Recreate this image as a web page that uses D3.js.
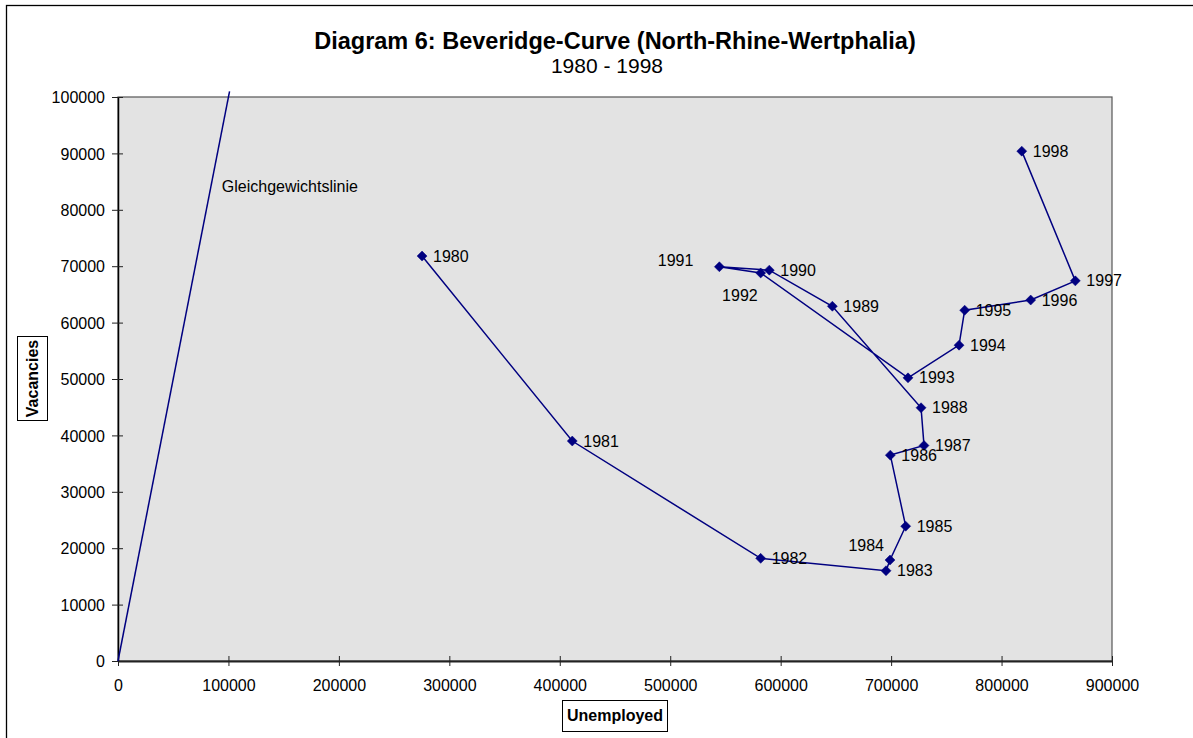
<!DOCTYPE html>
<html><head><meta charset="utf-8">
<script src="https://cdn.jsdelivr.net/npm/d3@7"></script>
<style>
html,body{margin:0;padding:0;background:#fff;}
svg{display:block;font-family:"Liberation Sans",Arial,sans-serif;}
</style></head>
<body>
<svg id="chart" width="1193" height="738"></svg>
<script>
// ---- data ----
const years = [1980,1981,1982,1983,1984,1985,1986,1987,1988,1989,1990,1991,1992,1993,1994,1995,1996,1997,1998];
const unemployed = [275300,411300,581900,695400,699000,713200,699300,729800,727100,646800,589700,544500,581900,715300,761500,766600,826400,866800,818300];
const vacancies  = [71800,39000,18200,16000,17900,23900,36500,38200,44900,62900,69300,69900,68800,50200,56000,62200,64000,67400,90400];
const equilibriumU = [0,101000];
const equilibriumV = [0,101000];
const xTicks = [0,100000,200000,300000,400000,500000,600000,700000,800000,900000];
const yTicks = [0,10000,20000,30000,40000,50000,60000,70000,80000,90000,100000];
const titleText = "Diagram 6: Beveridge-Curve (North-Rhine-Wertphalia)";
const subtitleText = "1980 - 1998";
const xTitle = "Unemployed";
const yTitle = "Vacancies";
const lineLabel = "Gleichgewichtslinie";

// label placement exceptions (style, not data)
const labelPlace = {1991:"left",1992:"belowLeft",1984:"aboveLeft"};

const svg = d3.select("#chart");
const plot = {l:118, r:1112, t:97, b:661};
const x = d3.scaleLinear().domain([0,900000]).range([plot.l, plot.r]);
const y = d3.scaleLinear().domain([0,100000]).range([plot.b, plot.t]);
const navy = "#000080";

// outer frame
svg.append("rect").attr("x",6.5).attr("y",5.5).attr("width",1200).attr("height",800)
  .attr("fill","#fff").attr("stroke","#000").attr("stroke-width",1.3);

// plot area
svg.append("rect").attr("x",plot.l).attr("y",plot.t).attr("width",plot.r-plot.l).attr("height",plot.b-plot.t)
  .attr("fill","#e3e3e3").attr("stroke","#555").attr("stroke-width",1.2);

// title
svg.append("text").attr("x",615).attr("y",49).attr("text-anchor","middle")
  .attr("font-size",23.5).attr("font-weight","bold").text(titleText);
svg.append("text").attr("x",607).attr("y",73).attr("text-anchor","middle")
  .attr("font-size",21).text(subtitleText);

// axes
const xAxis = d3.axisBottom(x).tickValues(xTicks).tickFormat(d3.format("d")).tickSize(5).tickSizeOuter(0);
const gx = svg.append("g").attr("transform",`translate(0,${plot.b})`).call(xAxis);
gx.select(".domain").attr("stroke","#222").attr("stroke-width",2);
gx.selectAll(".tick line").attr("stroke","#222").attr("y1",-5).attr("y2",5);
gx.selectAll(".tick text").attr("font-size",16).attr("font-family","Liberation Sans, Arial, sans-serif")
  .attr("fill","#000").attr("y",19).attr("dy","0.71em");

const yAxis = d3.axisLeft(y).tickValues(yTicks).tickFormat(d3.format("d")).tickSize(6).tickSizeOuter(0);
const gy = svg.append("g").attr("transform",`translate(${plot.l},0)`).call(yAxis);
gy.select(".domain").attr("stroke","#000").attr("stroke-width",1.5);
gy.selectAll(".tick line").attr("stroke","#222").attr("x1",5).attr("x2",-6);
gy.selectAll(".tick text").attr("font-size",16).attr("font-family","Liberation Sans, Arial, sans-serif")
  .attr("fill","#000").attr("x",-13).attr("dy","0.36em");

// axis titles with boxes
const xt = svg.append("g");
xt.append("rect").attr("x",562.5).attr("y",700.5).attr("width",105).attr("height",31)
  .attr("fill","#fff").attr("stroke","#000").attr("stroke-width",1);
xt.append("text").attr("x",615).attr("y",721).attr("text-anchor","middle")
  .attr("font-size",16).attr("font-weight","bold").text(xTitle);

const yt = svg.append("g");
yt.append("rect").attr("x",17.5).attr("y",336.5).attr("width",30).attr("height",84)
  .attr("fill","#fff").attr("stroke","#000").attr("stroke-width",1);
yt.append("text").attr("transform","translate(38,378.5) rotate(-90)").attr("text-anchor","middle")
  .attr("font-size",16).attr("font-weight","bold").text(yTitle);

// equilibrium line
svg.append("path")
  .datum(equilibriumU.map((u,i)=>[u,equilibriumV[i]]))
  .attr("d", d3.line().x(d=>x(d[0])).y(d=>y(d[1])))
  .attr("fill","none").attr("stroke",navy).attr("stroke-width",1.5);
svg.append("text").attr("x",x(94000)).attr("y",y(84200)).attr("dy","0.35em")
  .attr("font-size",16).text(lineLabel);

// Beveridge curve
const pts = years.map((yr,i)=>({yr, u:unemployed[i], v:vacancies[i]}));
svg.append("path").datum(pts)
  .attr("d", d3.line().x(d=>x(d.u)).y(d=>y(d.v)))
  .attr("fill","none").attr("stroke",navy).attr("stroke-width",1.5);

svg.append("g").selectAll("path").data(pts).join("path")
  .attr("transform",d=>`translate(${x(d.u)},${y(d.v)})`)
  .attr("d","M0,-5L5,0L0,5L-5,0Z").attr("fill",navy).attr("stroke",navy).attr("stroke-width",0.5);

svg.append("g").selectAll("text").data(pts).join("text")
  .attr("font-size",16)
  .each(function(d){
    const t = d3.select(this);
    const p = labelPlace[d.yr];
    let dx = 11, dy = 0, anchor = "start";
    if (p==="left"){ dx=-26; dy=-6; anchor="end"; }
    else if (p==="belowLeft"){ dx=-3; dy=22; anchor="end"; }
    else if (p==="aboveLeft"){ dx=-6; dy=-15; anchor="end"; }
    t.attr("x", x(d.u)+dx).attr("y", y(d.v)+dy).attr("dy","0.35em").attr("text-anchor",anchor).text(d.yr);
  });
</script>
</body></html>
